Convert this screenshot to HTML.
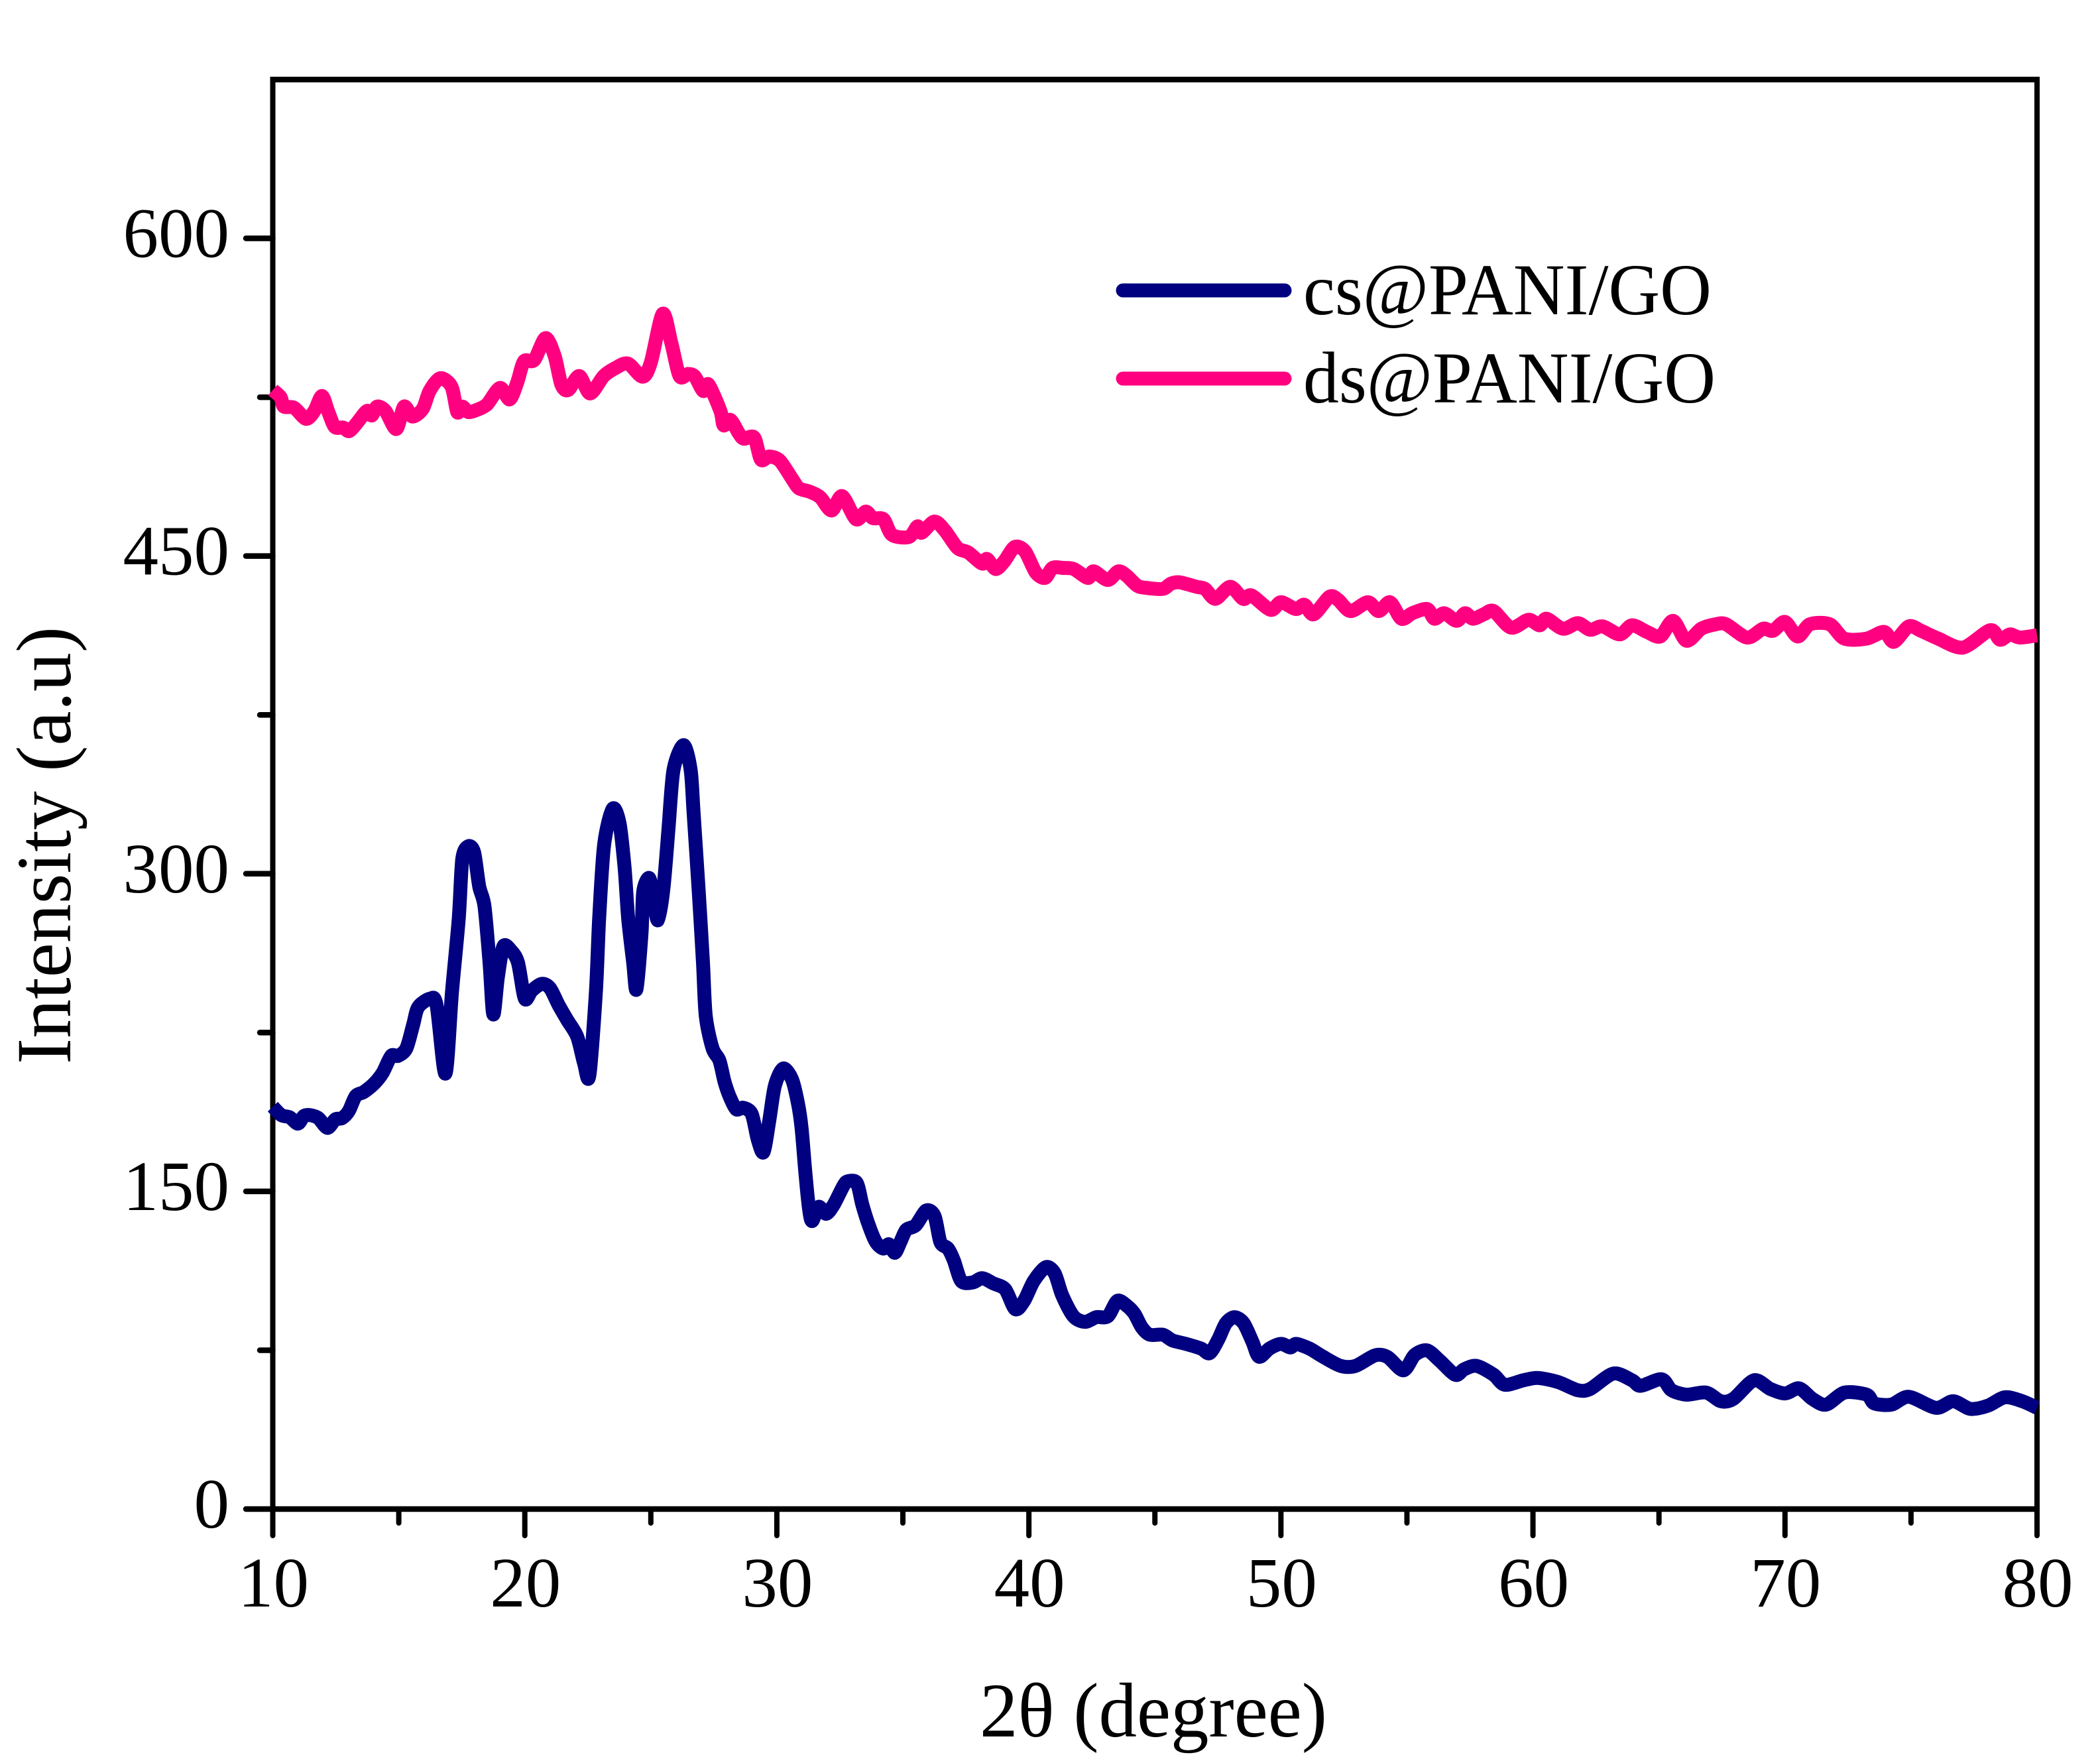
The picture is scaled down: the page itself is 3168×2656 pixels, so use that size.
<!DOCTYPE html>
<html>
<head>
<meta charset="utf-8">
<title>XRD patterns</title>
<style>
html,body{margin:0;padding:0;background:#fff;}
svg{display:block;}
text{font-family:"Liberation Serif","DejaVu Serif",serif;fill:#000;}
</style>
</head>
<body>
<svg id="chart" xmlns="http://www.w3.org/2000/svg" width="3168" height="2656" viewBox="0 0 3168 2656">
<rect x="0" y="0" width="3168" height="2656" fill="#fff"/>
<g id="axes"></g>
<g id="series"></g>
<text transform="translate(106,1605) rotate(-90)" font-size="118" textLength="660" lengthAdjust="spacingAndGlyphs">Intensity (a.u)</text>
<text x="1478" y="2619" font-size="117" textLength="524" lengthAdjust="spacingAndGlyphs">2θ (degree)</text>
<g>
<line x1="1694" y1="438" x2="1938" y2="438" stroke="#000080" stroke-width="21" stroke-linecap="round"/>
<text x="1966" y="474" font-size="110" textLength="616" lengthAdjust="spacingAndGlyphs">cs@PANI/GO</text>
<line x1="1694" y1="571" x2="1938" y2="571" stroke="#FF0080" stroke-width="21" stroke-linecap="round"/>
<text x="1966" y="607" font-size="110" textLength="622" lengthAdjust="spacingAndGlyphs">ds@PANI/GO</text>
</g>
</svg>
<script>
const xMajorTicks = [10,20,30,40,50,60,70,80];
const xMinorTicks = [15,25,35,45,55,65,75];
const yMajorTicks = [0,150,300,450,600];
const yMinorTicks = [75,225,375,525];
const csAngle = [10,10.34,10.67,11,11.23,11.48,11.81,12.17,12.48,12.75,13.02,13.29,13.62,14.03,14.36,14.7,14.97,15.3,15.57,15.77,16.24,16.5,16.85,17.11,17.38,17.52,17.76,17.99,18.19,18.4,18.6,18.75,18.93,19.15,19.46,19.73,20,20.27,20.67,21,21.34,21.68,22.08,22.35,22.56,22.82,22.95,23.15,23.49,23.76,23.96,24.1,24.3,24.43,24.63,24.7,24.93,25.1,25.28,25.5,25.7,25.9,26.3,26.58,26.7,26.9,27.07,27.18,27.45,27.72,27.92,28.12,28.39,28.66,29.0,29.24,29.47,29.7,29.92,30.25,30.6,30.83,30.98,31.13,31.28,31.4,31.66,31.96,32.26,32.64,32.82,33.17,33.39,33.62,33.92,34.22,34.45,34.68,34.9,35.13,35.51,35.93,36.26,36.49,36.79,37.02,37.32,37.77,38.15,38.6,39.06,39.46,39.81,40.19,40.67,41.02,41.32,41.77,42.23,42.68,43.13,43.51,43.89,44.19,44.49,44.8,45.32,45.7,46.23,46.83,47.17,47.51,47.82,48.16,48.52,48.87,49.13,49.55,50,50.38,50.6,51.13,51.66,52.37,52.96,53.74,54.23,54.86,55.31,55.8,56.29,56.92,57.27,57.76,58.44,58.88,59.62,60.2,60.99,61.78,62.27,63.19,63.93,64.27,65.1,65.5,66.1,66.87,67.46,67.95,68.77,69.42,70,70.56,71.09,71.63,72.36,73.24,73.54,74.22,74.91,75.99,76.67,77.36,78.05,78.73,79.42,80];
const csIntensity = [190,186,185,182,185.6,186,184.6,180,184,184.6,188,195,197,201,206,214,214,217.5,228.7,237,241,238,205.6,244,279,307,313,310,294,284.6,258,233.6,251,265.7,263.6,258,241,244.7,248,246,238,231,223,210.5,204.6,244,279,314,330.7,323.7,302.7,279,258,245.4,272,291.6,298,288.8,278,293,321,349,360.7,349,328,291.6,258,232.8,217.5,211.9,202,195,188.8,189.5,186.7,174.6,168.5,183.4,199.8,208,203,192,180,159,141.6,136,142.7,139.4,143.8,152.6,154.8,154,143.8,135,126.3,123,125,121,126,131.8,134,141,138.3,126,123,117.5,107.6,107,109,106.5,103.8,94.4,98.3,107.6,114.2,111.4,101,91,88.4,90.6,91,98.3,96,92.2,85.6,82.3,82.3,79.6,78,75.8,73.6,80,87.8,90.6,87.8,79,71.9,75.8,78,76.3,78,75.8,72,67.6,67.6,72.6,71.8,65.5,72.8,74.9,70.2,63.4,66,67.6,63.4,58.7,60.8,61.9,60,56.1,56.7,64,60.8,58.2,61.3,56.1,54,55,50.9,52,60.8,56.7,54.6,57,52,49.3,55,54,49.9,49.3,53,47.8,50.9,47.3,48.8,52.8,50.9,47.8];
const dsAngle = [10,10.31,10.44,10.85,11.32,11.65,11.95,12.19,12.46,12.79,13.03,13.33,13.73,13.93,14.14,14.47,14.9,15.21,15.54,15.95,16.22,16.64,17.09,17.32,17.52,17.76,18.09,18.5,19.01,19.4,19.7,19.97,20.37,20.82,21.18,21.45,21.72,22.16,22.59,23.13,23.6,24.09,24.67,25,25.47,25.81,26.14,26.48,26.75,27.08,27.29,27.76,27.89,28.16,28.49,28.69,29.1,29.37,29.7,30.12,30.63,30.88,31.3,31.72,32.17,32.59,33.14,33.53,33.81,34.23,34.57,35.24,35.58,35.74,36.25,36.67,37.17,37.59,38.14,38.34,38.68,39.02,39.44,39.85,40.27,40.64,40.94,41.36,41.78,42.34,42.57,43.13,43.55,43.88,44.3,44.64,45.31,45.64,45.98,46.65,46.99,47.4,47.99,48.5,48.83,49.59,50,50.59,50.93,51.3,51.93,52.27,52.76,53.45,53.88,54.33,54.78,55.21,55.8,56.09,56.48,56.97,57.31,57.62,58.05,58.44,59.13,59.82,60.27,60.54,61.19,61.78,62.27,62.76,63.44,63.93,64.52,65.05,65.56,66.09,66.68,67.26,67.66,68.5,69.13,69.52,70,70.5,70.99,71.77,72.36,73.24,73.93,74.32,74.91,75.4,76.08,77.06,78.14,78.53,78.93,79.32,80];
const dsIntensity = [528.4,525,520.6,520,514.8,518.5,525.6,518.5,511,510.7,509,512.7,518.5,516.4,520.6,518.5,510,520.6,515.9,519.5,527.9,534,530,518,520.6,518,519,521.6,529.4,524,532,542,542.5,552.9,544.6,531,528.4,535,526.8,535,538.8,540.9,534.7,541.4,564.4,550.8,535,536,534.7,527.9,531,518.5,511.7,514.3,508,505.4,506,495.5,497,495,486,482,480.4,477.8,471.5,478.3,467.4,471,467.9,467.4,460,459,464,461,466.3,462,453.8,451.7,446.5,448.6,443.9,447.5,454.3,452.2,442.3,439.7,444.4,444.4,443.9,439.7,442.8,438.7,442.8,440.7,436,435,434.5,437,437.6,435.5,434.5,429.8,435.5,429.8,431.4,424.6,428.2,425,427,422.5,430.8,429.3,424,428.2,424,428.2,420.4,423,425,420.4,423,419.4,423,420.4,422.5,424,416.2,419.9,417.3,420.4,415.7,418.3,415.2,416.8,413,417.3,414.2,412,419.4,410,415.7,417.8,417.8,411.5,415.7,414.7,418.9,412,417.8,417.8,411,411,414.2,409.5,416.8,414.7,411,406.8,415,410.5,413,411.5,412.6];

const plotLeft = 411.5, plotRight = 3073, plotTop = 120, plotBottom = 2276;
const xMin = 10, xMax = 80, yMin = 0, yMax = 675;
function xScale(v){ return plotLeft + (v - xMin) / (xMax - xMin) * (plotRight - plotLeft); }
function yScale(v){ return plotBottom - (v - yMin) / (yMax - yMin) * (plotBottom - plotTop); }

const NS = 'http://www.w3.org/2000/svg';
const axes = document.getElementById('axes');
const seriesGroup = document.getElementById('series');

function makeLine(x1, y1, x2, y2, w, cap){
  const l = document.createElementNS(NS, 'line');
  l.setAttribute('x1', x1);
  l.setAttribute('y1', y1);
  l.setAttribute('x2', x2);
  l.setAttribute('y2', y2);
  l.setAttribute('stroke', '#000');
  l.setAttribute('stroke-width', w);
  l.setAttribute('stroke-linecap', cap);
  axes.appendChild(l);
  return l;
}
function makeLabel(x, y, anchor, str){
  const t = document.createElementNS(NS, 'text');
  t.setAttribute('x', x);
  t.setAttribute('y', y);
  t.setAttribute('text-anchor', anchor);
  t.setAttribute('font-size', '107');
  t.textContent = str;
  axes.appendChild(t);
  return t;
}

xMajorTicks.forEach(function(v){
  const tick = makeLine(xScale(v), plotBottom, xScale(v), 2316, 8, 'round');
  
  
  const label = makeLabel(xScale(v) + 1, 2423, 'middle', String(v));
  
  
});
xMinorTicks.forEach(function(v){
  const tick = makeLine(xScale(v), plotBottom, xScale(v), 2297, 8, 'round');
  
  
});
yMajorTicks.forEach(function(v){
  const tick = makeLine(371, yScale(v), plotLeft, yScale(v), 8.5, 'round');
  
  
  const label = makeLabel(346, yScale(v) + 28, 'end', String(v));
  
  
});
yMinorTicks.forEach(function(v){
  const tick = makeLine(392, yScale(v), plotLeft, yScale(v), 8.5, 'round');
  
  
});

const frameLeft = makeLine(plotLeft, plotTop - 4, plotLeft, plotBottom, 8, 'butt');


const frameRight = makeLine(plotRight, plotTop - 4, plotRight, plotBottom, 8, 'butt');


const frameTop = makeLine(plotLeft - 4, plotTop, plotRight + 4, plotTop, 8.5, 'butt');


const frameBottom = makeLine(plotLeft - 4, plotBottom, plotRight + 4, plotBottom, 8.5, 'butt');



function buildPath(xs, ys){
  const px = xs.map(xScale);
  const py = ys.map(yScale);
  const n = px.length;
  let d = 'M' + px[0].toFixed(1) + ' ' + py[0].toFixed(1);
  for (let i = 0; i < n - 1; i++) {
    const i0 = Math.max(i - 1, 0);
    const i3 = Math.min(i + 2, n - 1);
    const k = 1 / 7;
    const c1x = px[i] + (px[i + 1] - px[i0]) * k;
    const c1y = py[i] + (py[i + 1] - py[i0]) * k;
    const c2x = px[i + 1] - (px[i3] - px[i]) * k;
    const c2y = py[i + 1] - (py[i3] - py[i]) * k;
    d += 'C' + c1x.toFixed(1) + ' ' + c1y.toFixed(1) + ' ' + c2x.toFixed(1) + ' ' + c2y.toFixed(1) + ' ' + px[i + 1].toFixed(1) + ' ' + py[i + 1].toFixed(1);
  }
  return d;
}
const csPath = document.createElementNS(NS, 'path');
csPath.setAttribute('d', buildPath(csAngle, csIntensity));
csPath.setAttribute('fill', 'none');
csPath.setAttribute('stroke', '#000080');
csPath.setAttribute('stroke-width', '21');
csPath.setAttribute('stroke-linejoin', 'round');


seriesGroup.appendChild(csPath);

const dsPath = document.createElementNS(NS, 'path');
dsPath.setAttribute('d', buildPath(dsAngle, dsIntensity));
dsPath.setAttribute('fill', 'none');
dsPath.setAttribute('stroke', '#FF0080');
dsPath.setAttribute('stroke-width', '21');
dsPath.setAttribute('stroke-linejoin', 'round');


seriesGroup.appendChild(dsPath);
</script>
</body>
</html>
